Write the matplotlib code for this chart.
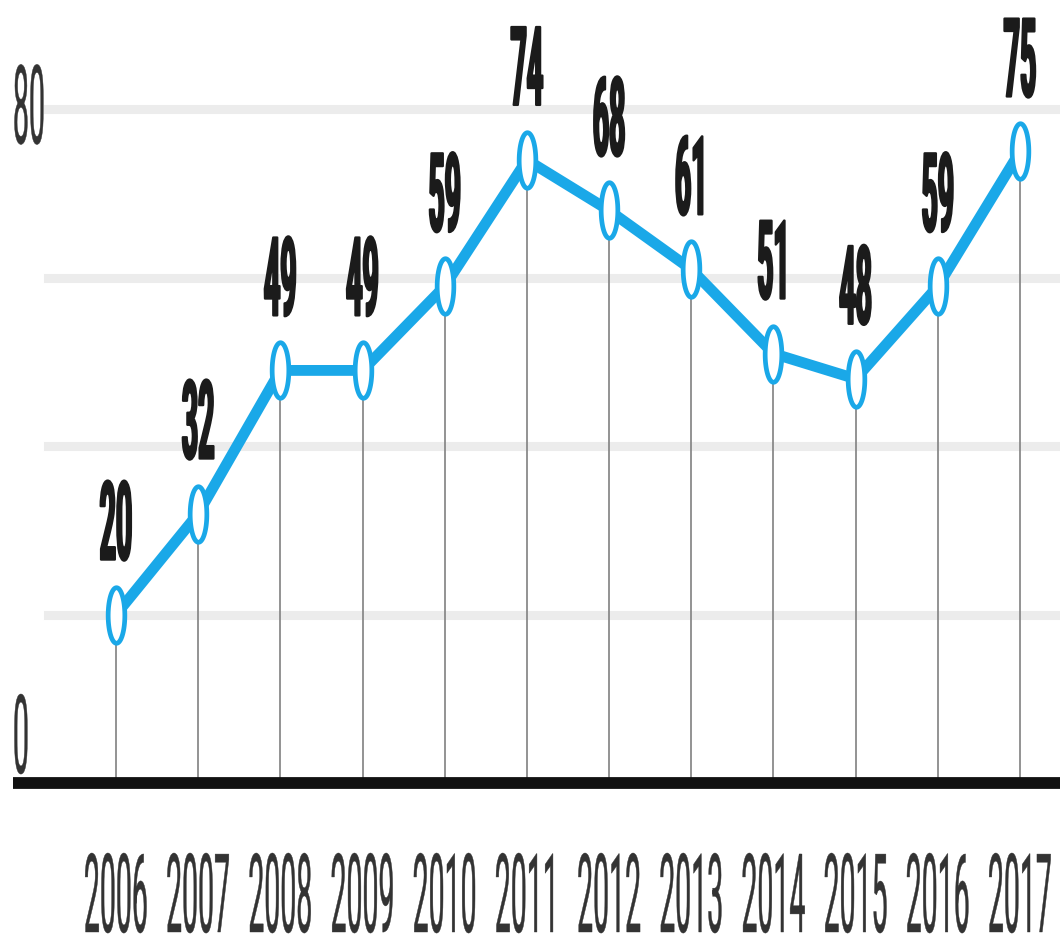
import matplotlib
matplotlib.use("Agg")
import matplotlib.pyplot as plt
import numpy as np
from matplotlib.patheffects import AbstractPathEffect
from matplotlib.transforms import Affine2D
from matplotlib.path import Path

# ---- data ----
years = [2006, 2007, 2008, 2009, 2010, 2011, 2012, 2013, 2014, 2015, 2016, 2017]
values = [20, 32, 49, 49, 59, 74, 68, 61, 51, 48, 59, 75]
grid_levels = [20, 40, 60, 80]
axis_labels = [0, 80]

BLUE = "#1aa8e8"
DARK = "#1b1b1b"
GREY_TEXT = "#333333"


class Tall(AbstractPathEffect):
    """Draw glyph outlines stretched vertically upward from their baseline."""

    def __init__(self, sy=3.85, stroke=0.0):
        super().__init__()
        self.sy = sy
        self.stroke = stroke

    def draw_path(self, renderer, gc, tpath, affine, rgbFace=None):
        by = affine.transform((0.0, 0.0))[1]
        stretch = Affine2D().translate(0, -by).scale(1.0, self.sy).translate(0, by)
        gc0 = renderer.new_gc()
        gc0.copy_properties(gc)
        if self.stroke > 0 and rgbFace is not None:
            gc0.set_linewidth(self.stroke)
            gc0.set_foreground(rgbFace)
            gc0.set_joinstyle("round")
        renderer.draw_path(gc0, tpath, affine + stretch, rgbFace)
        gc0.restore()


fig = plt.figure(figsize=(10.6, 9.39), dpi=100)
ax = fig.add_axes([0, 0, 1, 1])
ax.set_axis_off()

# pixel layout: 82.18 px per year, 8.42 px per unit, zero line at 783 px from top
ax.set_xlim(2006 - 116 / 82.18, 2017 + 40 / 82.18)
ax.set_ylim(-(939 - 783) / 8.42, 783 / 8.42)

# horizontal grid
for g in grid_levels:
    ax.axhline(g, xmin=48 / 1060, xmax=1.0, color="#ececec", lw=6.5, zorder=1)

# drop lines from each point to the baseline
ax.vlines(years, 0, values, color="#8a8a8a", lw=1.3, zorder=2)

# baseline
ax.axhline(0, xmin=13 / 1060, xmax=1.0, color="#111111", lw=8.5, zorder=5,
           solid_capstyle="butt")

# line with elliptical open markers
t = np.linspace(0, 2 * np.pi, 80)
ellipse = Path(np.column_stack([0.3 * np.cos(t), np.sin(t)]), closed=True)
ax.plot(years, values, color=BLUE, lw=7.8, zorder=3, solid_joinstyle="round",
        solid_capstyle="round")
ax.plot(years, values, ls="none", marker=ellipse, ms=40, mec=BLUE, mfc="white",
        mew=3.4, zorder=4)

num_font = dict(family=["Roboto", "DejaVu Sans"], fontsize=20.5)

# value labels above the points
for x, v in zip(years, values):
    ax.annotate(str(v), xy=(x, v), xytext=(0, 55), textcoords="offset pixels",
                ha="center", va="baseline", color=DARK, fontweight="bold",
                path_effects=[Tall(3.85, 1.6)], zorder=6, **num_font)

# year labels
for x in years:
    ax.annotate(str(x), xy=(x, 0), xytext=(0, -149), textcoords="offset pixels",
                ha="center", va="baseline", color=GREY_TEXT,
                path_effects=[Tall(3.85, 0.3)], zorder=6, **num_font)

# value axis labels
ax.annotate(str(axis_labels[1]), xy=(29 / 1060, axis_labels[1]),
            xycoords=("axes fraction", "data"), xytext=(0, -34),
            textcoords="offset pixels", ha="center", va="baseline",
            color=GREY_TEXT, path_effects=[Tall(3.85, 0.3)], **num_font)
ax.annotate(str(axis_labels[0]), xy=(21 / 1060, axis_labels[0]),
            xycoords=("axes fraction", "data"), xytext=(0, 10),
            textcoords="offset pixels", ha="center", va="baseline",
            color=GREY_TEXT, path_effects=[Tall(3.85, 0.3)], **num_font)

fig.savefig("out.png", dpi=100, facecolor="white")
